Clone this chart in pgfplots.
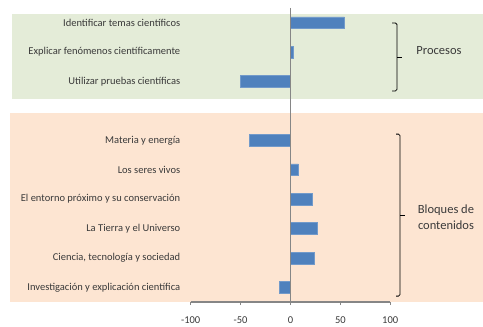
\documentclass[border=0pt]{standalone}
\usepackage{pgfplots}
\pgfplotsset{compat=1.18}
\usepackage{fontspec}
\setmainfont{Carlito}
\definecolor{barblue}{HTML}{4F81BD}
\definecolor{bggreen}{HTML}{E4ECD8}
\definecolor{bgorange}{HTML}{FDE5D2}
\definecolor{axisgray}{HTML}{868686}
\definecolor{txt}{HTML}{3A3A3A}
\begin{document}
\begin{tikzpicture}
\begin{axis}[
  set layers,
  xbar,
  width=199.5bp, height=294bp, scale only axis,
  y dir=reverse,
  xmin=-100, xmax=100, ymin=-0.5, ymax=9.5,
  bar width=11.7bp,
  clip=false,
  axis x line*=bottom,
  axis y line*=left,
  y axis line style={draw=none},
  x axis line style={draw=axisgray, line width=1.2bp},
  xtick={-100,-50,0,50,100},
  ytick={0,1,2,4,5,6,7,8,9},
  yticklabels={Identificar temas científicos,Explicar fenómenos científicamente,Utilizar pruebas científicas,Materia y energía,Los seres vivos,El entorno próximo y su conservación,La Tierra y el Universo,{Ciencia, tecnología y sociedad},Investigación y explicación científica},
  ytick style={draw=none},
  xtick style={draw=axisgray, line width=0.8bp},
  tick align=outside,
  major tick length=3bp,
  ticklabel style={font=\fontsize{10.5bp}{12bp}\selectfont, text=txt},
  /pgf/number format/assume math mode=true,
  xticklabel style={yshift=-8bp},
  yticklabel style={xshift=-4bp},
]
\begin{pgfonlayer}{axis background}
  \fill[bggreen] (axis cs:-279.2,-0.296) rectangle (axis cs:193,2.605);
  \fill[bgorange] (axis cs:-281.2,3.071) rectangle (axis cs:193,9.5);
\end{pgfonlayer}
\addplot[fill=barblue, draw=barblue!80!white] coordinates {
  (54,0) (2.5,1) (-50,2) (-41,4) (8,5) (22,6) (27,7) (23.5,8) (-11,9)
};
\draw[axisgray, line width=1bp] (axis cs:0,-0.5) -- (axis cs:0,9.5);
% bracket Procesos
\draw[line width=0.8bp, rounded corners=1.5bp] (axis cs:101.8,0.01) -- (axis cs:106.8,0.01) -- (axis cs:106.8,2.32) -- (axis cs:101.8,2.32);
\draw[line width=0.8bp] (axis cs:106.8,1.165) -- (axis cs:111.8,1.165);
% bracket Bloques
\draw[line width=0.8bp, rounded corners=1.5bp] (axis cs:105.8,3.79) -- (axis cs:109.8,3.79) -- (axis cs:109.8,9.30) -- (axis cs:105.8,9.30);
\draw[line width=0.8bp] (axis cs:109.8,6.545) -- (axis cs:114.8,6.545);
\node[font=\fontsize{12.5bp}{16.5bp}\selectfont, text=txt] at (axis cs:148.9,0.963) {Procesos};
\node[font=\fontsize{12.5bp}{16.5bp}\selectfont, text=txt, align=center] at (axis cs:155.9,6.61) {Bloques de\\contenidos};
\coordinate (bl) at (axis cs:-291.2,10.35);
\coordinate (tr) at (axis cs:193,-0.772);
\end{axis}
\pgfresetboundingbox
\path[use as bounding box] (bl) rectangle (tr);
\end{tikzpicture}
\end{document}
